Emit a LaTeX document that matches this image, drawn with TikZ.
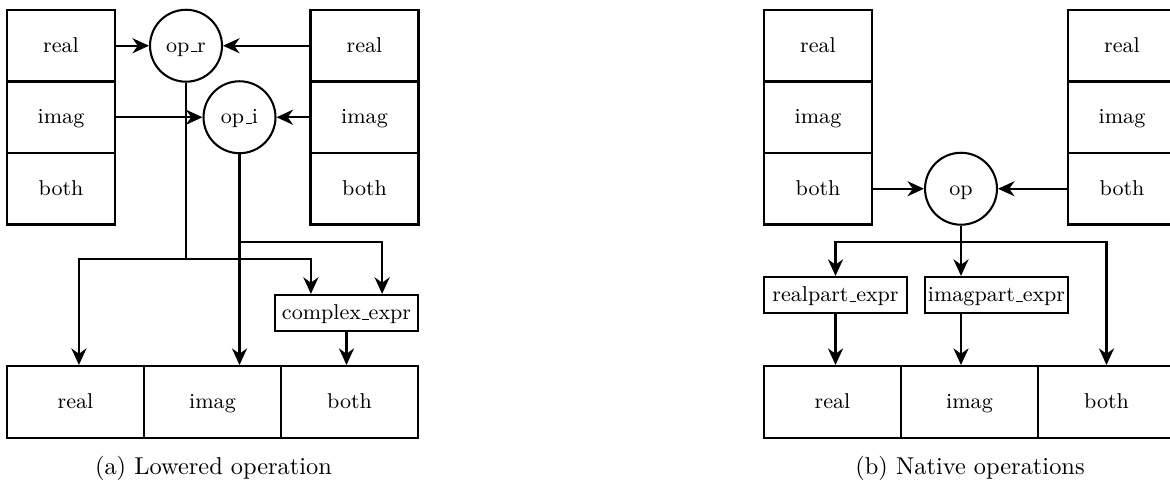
\documentclass[tikz,border=0pt]{standalone}
\usetikzlibrary{arrows.meta}
\newcommand\usc{\leavevmode\kern.06em\vbox{\hrule width.3em}}
\begin{document}
\begin{tikzpicture}[x=0.41pt,y=-0.41pt,
  every node/.style={font=\fontsize{8.8}{10}\selectfont,text height=1.55ex,text depth=0.3ex},
  cell/.style={draw,line width=0.85pt,minimum width=44.3pt,minimum height=29.3pt,inner sep=0pt},
  bcell/.style={draw,line width=0.85pt,minimum width=56.2pt,minimum height=29.5pt,inner sep=0pt},
  opc/.style={draw,circle,line width=0.85pt,minimum size=29.5pt,inner sep=0pt},
  ebox/.style={draw,line width=0.85pt,minimum width=58.6pt,minimum height=14.8pt,inner sep=0pt},
  arr/.style={line width=0.85pt,-{Stealth[length=6.8pt,width=6.2pt,inset=2.2pt]}},
  ln/.style={line width=0.85pt},
  captext/.style={font=\fontsize{10}{12}\selectfont}]
\useasboundingbox (0,0) rectangle (1170,481);
\clip (0,0) rectangle (1170,481);
% ---------- panel (a) ----------
\node[cell] (al1) at (61,45.75) {real};
\node[cell] (al2) at (61,117.25) {imag};
\node[cell] (al3) at (61,188.75) {both};
\node[cell] (ar1) at (364.5,45.75) {real};
\node[cell] (ar2) at (364.5,117.25) {imag};
\node[cell] (ar3) at (364.5,188.75) {both};
\node[opc] (opr) at (186,45.75) {op\usc r};
\node[opc] (opi) at (239.5,117.25) {op\usc i};
\node[ebox] (cx) at (346.5,313) {complex\usc expr};
\node[bcell] (ab1) at (75.5,402) {real};
\node[bcell] (ab2) at (212.5,402) {imag};
\node[bcell] (ab3) at (349.5,402) {both};
\node[captext] (capa) at (213.5,468) {(a) Lowered operation};
\draw[arr] (al1) -- (opr);
\draw[arr] (ar1) -- (opr);
\draw[arr] (al2) -- (opi);
\draw[arr] (ar2) -- (opi);
\coordinate (jr) at (186,259);
\coordinate (ji) at (239.5,242);
\draw[ln] (opr.south) -- (jr);
\draw[arr] (jr) -| ([xshift=1.4pt]ab1.north);
\draw[arr] (jr) -| ([xshift=-14.6pt]cx.north);
\draw[arr] (opi.south) -- (ab2.north -| opi.south);
\draw[arr] (ji) -| ([xshift=14.6pt]cx.north);
\draw[arr] (cx.south) -- (ab3.north -| cx.south);
% ---------- panel (b) ----------
\node[cell] (bl1) at (818,45.75) {real};
\node[cell] (bl2) at (818,117.25) {imag};
\node[cell] (bl3) at (818,188.75) {both};
\node[cell] (br1) at (1122,45.75) {real};
\node[cell] (br2) at (1122,117.25) {imag};
\node[cell] (br3) at (1122,188.75) {both};
\node[opc] (op) at (961,188.75) {op};
\node[ebox] (rp) at (835.5,295) {realpart\usc expr};
\node[ebox] (ip) at (996.5,295) {imagpart\usc expr};
\node[bcell] (bb1) at (832.5,402) {real};
\node[bcell] (bb2) at (969.5,402) {imag};
\node[bcell] (bb3) at (1106.5,402) {both};
\node[captext] (capb) at (970,468) {(b) Native operations};
\draw[arr] (bl3) -- (op);
\draw[arr] (br3) -- (op);
\coordinate (jo) at (961,242);
\draw[ln] (op.south) -- (jo);
\draw[arr] (jo) -| (rp.north);
\draw[arr] (jo) -- (ip.north -| jo);
\draw[arr] (jo) -| (bb3.north);
\draw[arr] (rp.south) -- (bb1.north -| rp.south);
\draw[arr] (ip.south -| op.south) -- (bb2.north -| op.south);
\end{tikzpicture}
\end{document}
